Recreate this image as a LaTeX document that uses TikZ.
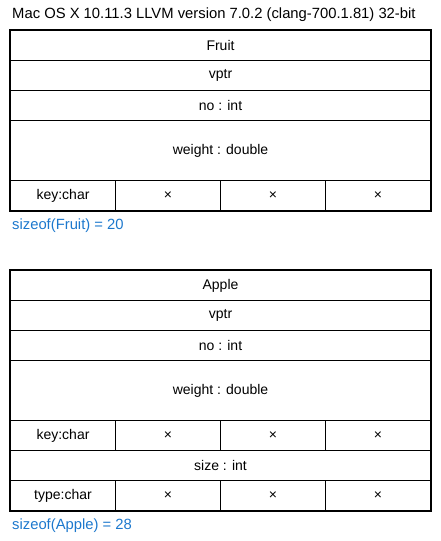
\documentclass[tikz,border=0pt]{standalone}
\usepackage{fontspec}
\setmainfont{Liberation Sans}
\definecolor{sizeblue}{RGB}{28,120,205}
\tikzset{
  cell/.style={draw, line width=1pt, inner sep=0pt, anchor=north west, font=\fontsize{14}{16}\selectfont},
  frame/.style={draw, line width=2pt},
  sizeof/.style={anchor=west, inner sep=0pt, text=sizeblue, font=\fontsize{14.8}{17}\selectfont},
}
\begin{document}
\begin{tikzpicture}[x=1pt,y=-1pt]
\useasboundingbox (0,0) rectangle (441,541);
\node[anchor=west, inner sep=0pt, font=\fontsize{14.8}{17}\selectfont] (title) at (12,15) {Mac OS X 10.11.3 LLVM version 7.0.2 (clang-700.1.81) 32-bit};
% Fruit
\node[cell, minimum width=420pt, minimum height=30pt] (fname) at (10,30) {Fruit};
\node[cell, minimum width=420pt, minimum height=30pt] (fvptr) at (10,60) {vptr};
\node[cell, minimum width=420pt, minimum height=30pt] (fno) at (10,90) {no : int};
\node[cell, minimum width=420pt, minimum height=60pt] (fweight) at (10,120) {weight : double};
\node[cell, minimum width=105pt, minimum height=30pt] (fkey) at (10,180) {key:char};
\node[cell, minimum width=105pt, minimum height=30pt] (fp1) at (115,180) {×};
\node[cell, minimum width=105pt, minimum height=30pt] (fp2) at (220,180) {×};
\node[cell, minimum width=105pt, minimum height=30pt] (fp3) at (325,180) {×};
\draw[frame] (fname.north west) rectangle (fp3.south east);
\node[sizeof] (fsize) at (12,226) {sizeof(Fruit) = 20};
% Apple
\node[cell, minimum width=420pt, minimum height=30pt] (aname) at (10,270) {Apple};
\node[cell, minimum width=420pt, minimum height=30pt] (avptr) at (10,300) {vptr};
\node[cell, minimum width=420pt, minimum height=30pt] (ano) at (10,330) {no : int};
\node[cell, minimum width=420pt, minimum height=60pt] (aweight) at (10,360) {weight : double};
\node[cell, minimum width=105pt, minimum height=30pt] (akey) at (10,420) {key:char};
\node[cell, minimum width=105pt, minimum height=30pt] (ap1) at (115,420) {×};
\node[cell, minimum width=105pt, minimum height=30pt] (ap2) at (220,420) {×};
\node[cell, minimum width=105pt, minimum height=30pt] (ap3) at (325,420) {×};
\node[cell, minimum width=420pt, minimum height=30pt] (asize) at (10,450) {size : int};
\node[cell, minimum width=105pt, minimum height=30pt] (atype) at (10,480) {type:char};
\node[cell, minimum width=105pt, minimum height=30pt] (aq1) at (115,480) {×};
\node[cell, minimum width=105pt, minimum height=30pt] (aq2) at (220,480) {×};
\node[cell, minimum width=105pt, minimum height=30pt] (aq3) at (325,480) {×};
\draw[frame] (aname.north west) rectangle (aq3.south east);
\node[sizeof] (asizeof) at (12,526) {sizeof(Apple) = 28};
\end{tikzpicture}
\end{document}
